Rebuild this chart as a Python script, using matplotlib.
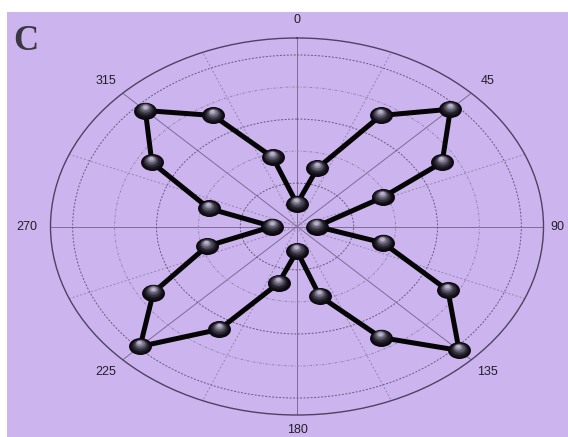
import numpy as np
import matplotlib.pyplot as plt
from matplotlib.path import Path
from matplotlib.patches import Rectangle
from matplotlib.transforms import Affine2D, ScaledTranslation

# bead positions around the loop (compass degrees, clockwise from top) and radius
theta_deg = [0, 15, 30, 45, 60, 66, 90, 104, 119, 135, 150, 166,
             180, 194, 210, 225, 239, 254, 270, 285, 300, 315, 330, 345]
radius = [0.12, 0.32, 0.68, 0.88, 0.68, 0.38, 0.08, 0.36, 0.70, 0.93, 0.68, 0.38,
          0.13, 0.31, 0.63, 0.90, 0.68, 0.38, 0.10, 0.37, 0.68, 0.87, 0.68, 0.38]

angle_ticks = [0, 45, 90, 135, 180, 225, 270, 315]
angle_labels = ["0", "45", "90", "135", "180", "225", "270", "315"]
ring_levels = [0.23, 0.40, 0.57, 0.74, 0.91]

BG = "#ccb5ef"
DARK_GRID = "#67587c"
LIGHT_GRID = "#9585ad"

theta = np.deg2rad(theta_deg)
r = np.array(radius)

fig = plt.figure(figsize=(5.68, 4.37), dpi=100, facecolor="white")
fig.add_artist(Rectangle((7 / 568, 0), 1, 1 - 12 / 437, transform=fig.transFigure,
                         facecolor=BG, edgecolor="none", zorder=-10))

ax = fig.add_axes([50.5 / 568, 22 / 437, 493 / 568, 377 / 437], projection="polar")
ax.set_aspect("auto")
ax.set_facecolor("none")
ax.set_theta_zero_location("N")
ax.set_theta_direction(-1)
ax.set_ylim(0, 1)

# grid: solid spokes every 45 deg, dashed ones in between; alternating ring styles
ax.set_thetagrids(np.arange(0, 360, 22.5), labels=[""] * 16)
ax.set_rgrids(ring_levels, labels=[""] * len(ring_levels))
for i, gl in enumerate(ax.xaxis.get_gridlines()):
    if i % 2 == 0:
        gl.set(color="#7d6c94", linestyle="-", linewidth=0.7)
    else:
        gl.set(color=LIGHT_GRID, linestyle=(0, (2, 2)), linewidth=0.7)
for i, gl in enumerate(ax.yaxis.get_gridlines()):
    if i % 2 == 0:
        gl.set(color=DARK_GRID, linestyle=(0, (2, 1.6)), linewidth=0.7)
    else:
        gl.set(color=LIGHT_GRID, linestyle=(0, (2.5, 1.6, 0.8, 1.6)), linewidth=0.7)
ax.tick_params(axis="x", direction="in", length=4, width=0.8, color=DARK_GRID)
ax.tick_params(axis="y", length=0)
ax.spines["polar"].set_color("#4e4260")
ax.spines["polar"].set_linewidth(1.0)

# angle labels sit just outside the rim; 90 and 180 pulled in to stay on the canvas
label_r = {90: 1.058, 180: 1.08}
for t, lab in zip(angle_ticks, angle_labels):
    ax.text(np.deg2rad(t), label_r.get(t, 1.095), lab, ha="center", va="center",
            fontsize=9, family="Liberation Sans", color="#221e28", clip_on=False)

# connecting rods
ax.plot(np.append(theta, theta[0]), np.append(r, r[0]), color="#050505",
        linewidth=3.6, solid_capstyle="butt", zorder=2)

# shaded beads: stacked ellipses fading towards a highlight near the top
ell = Affine2D().scale(1.35, 1.0).transform_path(Path.unit_circle())
dark = np.array([0.04, 0.03, 0.06])
light = np.array([0.72, 0.69, 0.80])
n = 10
for k in range(n):
    f = k / (n - 1)
    off = ScaledTranslation(-0.8 * f / 100, 4.0 * f / 100, fig.dpi_scale_trans)
    ax.plot(theta, r, linestyle="none", marker=ell, markersize=16.5 * (1 - 0.8 * f),
            markerfacecolor=dark + (light - dark) * f ** 1.8, markeredgecolor="none",
            transform=ax.transData + off, zorder=3 + k * 0.01, clip_on=False)

fig.text(13 / 568, 1 - 50 / 437, "C", fontsize=25, fontweight="bold",
         family="Liberation Serif", color="#3b3740", va="baseline")

fig.savefig("out.png", dpi=100, facecolor=fig.get_facecolor())
